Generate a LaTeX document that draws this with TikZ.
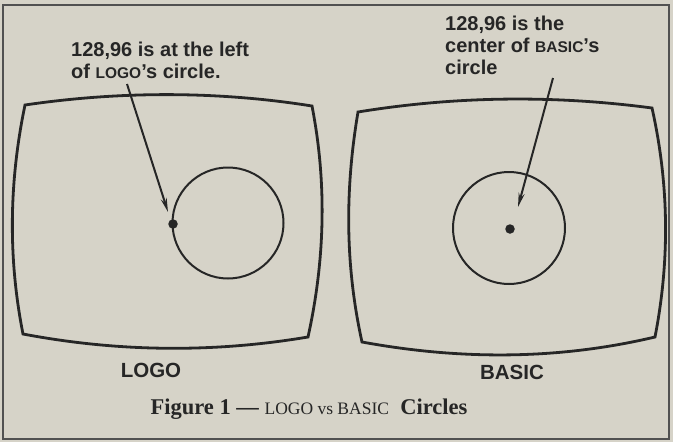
\documentclass[tikz,border=0pt]{standalone}
\usepackage{fontspec}
\setmainfont{Liberation Serif}
\setsansfont{Liberation Sans}
\usetikzlibrary{arrows.meta}
\definecolor{paper}{HTML}{D6D3C8}
\definecolor{ink}{HTML}{262626}
\tikzset{
  screen/.style={draw=ink, line width=2.8pt, line join=miter},
  ring/.style={draw=ink, line width=2pt},
  spot/.style={circle, fill=ink, inner sep=0pt, minimum size=9.5pt},
  note/.style={font=\sffamily\bfseries\fontsize{20}{22}\selectfont, text=ink, align=left, anchor=north west, inner sep=0pt},
  label/.style={font=\sffamily\bfseries\fontsize{20.5}{22}\selectfont, text=ink, inner sep=0pt},
  pointer/.style={draw=ink, line width=2pt, -{Stealth[length=14pt,width=6pt]}},
}
\newcommand{\smc}[1]{{\fontsize{15.5}{15.5}\selectfont #1}}
\begin{document}
\begin{tikzpicture}[x=1pt,y=-1pt]
  \useasboundingbox (0,0) rectangle (673,442);
  \fill[paper] (0,0) rectangle (673,442);
  \draw[draw=ink!80, line width=1.8pt] (3,5) rectangle (669,439);

  % left screen
  \draw[screen] (25,105) .. controls (120,91) and (218,91) .. (312,106)
                .. controls (327,183) and (325,260) .. (308,337)
                .. controls (213,353) and (118,352) .. (23,334)
                .. controls (8,258) and (9,182) .. cycle;
  % right screen
  \draw[screen] (358,112) .. controls (456,96) and (554,95) .. (652,108)
                .. controls (669,184) and (670,260) .. (655,337)
                .. controls (558,360) and (460,360) .. (362,342)
                .. controls (345,265) and (345,189) .. cycle;

  \draw[ring] (228,223) circle (55.5);
  \draw[ring] (509,228) circle (56);
  \node[spot] (d1) at (173,224) {};
  \node[spot] (d2) at (510,229) {};

  \node[note] (t1) at (71,42) {128,96 is at the left\\of \smc{LOGO}'s circle.};
  \node[note] (t2) at (445,16) {128,96 is the\\center of \smc{BASIC}'s\\circle};

  \coordinate (a1) at (127,84);
  \coordinate (h1) at (168,212);
  \coordinate (a2) at (553,78);
  \coordinate (h2) at (518,207);
  \draw[pointer] (a1) -- (h1);
  \draw[pointer] (a2) -- (h2);

  \node[label] (l1) at (151,370) {LOGO};
  \node[label] (l2) at (512,372) {BASIC};

  \node[font=\bfseries\fontsize{22.5}{22.5}\selectfont, text=ink, inner sep=0pt] (cap) at (309,409)
    {Figure 1 --- {\mdseries\fontsize{17.5}{17.5}\selectfont LOGO vs BASIC}\ \ Circles};
\end{tikzpicture}
\end{document}
